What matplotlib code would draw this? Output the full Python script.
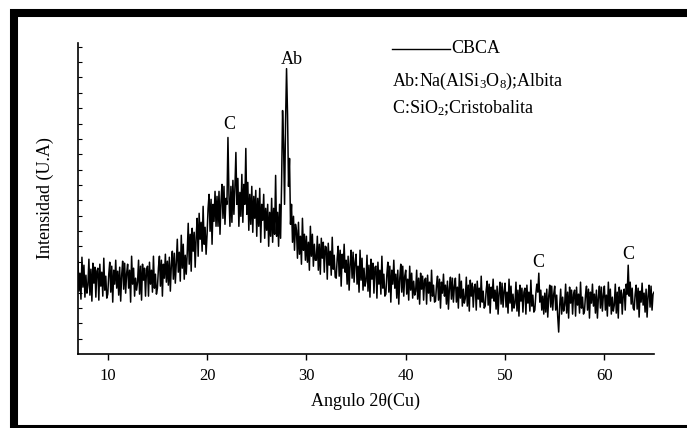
import numpy as np
import matplotlib
matplotlib.use("Agg")
import matplotlib.pyplot as plt
from matplotlib.patches import Rectangle

plt.rcParams['font.family'] = ['Liberation Serif', 'DejaVu Serif']
plt.rcParams['mathtext.fontset'] = 'custom'
plt.rcParams['mathtext.rm'] = 'Liberation Serif'
plt.rcParams['mathtext.it'] = 'Liberation Serif'

# 2theta grid, 0.1 deg step from 7 to 65
two_theta = np.round(np.arange(7.0, 65.01, 0.1), 1)

# intensity (arbitrary units), one row per degree
intensity = [
    93, 63, 81, 55, 97, 67, 89, 57, 79, 61,          # 7
    69, 95, 59, 85, 53, 91, 71, 87, 57, 83,          # 8
    86, 54, 90, 68, 82, 58, 96, 64, 78, 56,          # 9
    60, 80, 92, 62, 88, 52, 84, 70, 94, 66,          # 10
    83, 59, 87, 53, 79, 93, 65, 91, 61, 81,          # 11
    90, 66, 84, 52, 98, 70, 86, 58, 76, 64,          # 12
    72, 94, 60, 88, 54, 90, 74, 86, 58, 84,          # 13
    88, 58, 92, 70, 84, 62, 98, 66, 80, 60,          # 14
    66, 86, 98, 68, 94, 58, 90, 76, 100, 72,         # 15
    93, 69, 97, 63, 89, 103, 75, 101, 71, 91,        # 16
    115, 82, 102, 73, 119, 86, 110, 75, 99, 80,      # 17
    101, 131, 90, 120, 83, 126, 103, 122, 87, 117,   # 18
    136, 98, 141, 115, 132, 103, 148, 110, 127, 100, # 19
    120, 146, 160, 123, 155, 110, 150, 133, 163, 128,  # 20
    158, 128, 163, 120, 153, 170, 136, 168, 130, 156,  # 21
    150, 217, 160, 128, 168, 132, 174, 140, 166, 202,  # 22
    150, 176, 128, 162, 138, 180, 132, 170, 150, 206,  # 23
    140, 172, 124, 160, 130, 168, 122, 158, 136, 164,  # 24
    118, 156, 128, 166, 112, 150, 134, 160, 116, 146,  # 25
    124, 150, 108, 142, 118, 156, 112, 146, 120, 179,  # 26
    118, 142, 108, 150, 116, 170, 244, 210, 150, 232,  # 27
    286, 240, 168, 196, 130, 150, 112, 138, 104, 130,  # 28
    124, 96, 132, 100, 118, 90, 136, 104, 120, 94,     # 29
    118, 92, 112, 84, 128, 98, 120, 88, 110, 94,       # 30
    94, 118, 84, 110, 80, 116, 96, 112, 82, 108,       # 31
    107, 75, 111, 89, 103, 79, 117, 85, 99, 77,        # 32
    76, 96, 108, 78, 104, 68, 100, 86, 110, 82,        # 33
    94, 70, 98, 64, 90, 104, 76, 102, 72, 92,          # 34
    100, 70, 88, 62, 104, 74, 96, 64, 86, 68,          # 35
    73, 99, 63, 89, 57, 95, 75, 91, 61, 87,            # 36
    88, 56, 92, 70, 84, 60, 98, 66, 80, 58,            # 37
    60, 80, 92, 62, 88, 52, 84, 70, 94, 66,            # 38
    80, 56, 84, 50, 76, 90, 62, 88, 58, 78,            # 39
    84, 60, 75, 54, 88, 64, 81, 56, 73, 59,            # 40
    63, 84, 55, 76, 50, 81, 65, 78, 54, 74,            # 41
    76, 50, 79, 61, 72, 53, 84, 58, 69, 52,            # 42
    53, 69, 78, 54, 75, 46, 72, 61, 80, 58,            # 43
    69, 50, 73, 45, 66, 77, 55, 76, 52, 68,            # 44
    76, 52, 67, 46, 80, 56, 73, 48, 65, 51,            # 45
    56, 77, 48, 69, 43, 74, 58, 71, 47, 67,            # 46
    70, 44, 73, 55, 66, 47, 78, 52, 63, 46,            # 47
    48, 64, 73, 49, 70, 41, 67, 56, 75, 53,            # 48
    64, 45, 68, 40, 61, 72, 50, 71, 47, 63,            # 49
    71, 47, 62, 41, 75, 51, 68, 43, 60, 46,            # 50
    51, 72, 43, 64, 38, 69, 53, 66, 42, 62,            # 51
    66, 40, 69, 51, 62, 43, 74, 48, 59, 42,            # 52
    44, 60, 70, 62, 81, 52, 64, 44, 58, 40,            # 53
    61, 42, 65, 37, 58, 69, 47, 68, 44, 60,            # 54
    68, 44, 59, 38, 22, 48, 65, 40, 57, 43,            # 55
    49, 70, 41, 62, 36, 67, 51, 64, 40, 60,            # 56
    64, 38, 67, 49, 60, 41, 72, 46, 57, 40,            # 57
    43, 59, 68, 44, 65, 36, 62, 51, 70, 48,            # 58
    60, 41, 64, 36, 57, 68, 46, 67, 43, 59,            # 59
    68, 44, 59, 38, 72, 48, 65, 40, 57, 43,            # 60
    49, 70, 41, 62, 36, 67, 51, 64, 40, 60,            # 61
    65, 44, 70, 60, 89, 58, 72, 50, 66, 46,            # 62
    44, 60, 69, 45, 66, 37, 63, 52, 71, 49,            # 63
    61, 42, 65, 37, 58, 69, 47, 68, 44, 60,            # 64
    62,                                                # 65
]

# peak labels: text, position, label bottom height
peak_text = ['C', 'Ab', 'C', 'C']
peak_x = [22.2, 28.5, 53.35, 62.4]
peak_y = [222, 287, 83, 91]

fig = plt.figure(figsize=(6.87, 4.28), dpi=100)
ax = fig.add_axes([0.1135, 0.1729, 0.8385, 0.7273])

ax.plot(two_theta, intensity, color='black', lw=1.1, label='CBCA')

for t, px, py in zip(peak_text, peak_x, peak_y):
    ax.text(px, py, t, ha='center', va='bottom', fontsize=13)

ax.set_xlim(7, 65)
ax.set_ylim(0, 312)
ax.set_xticks([10, 20, 30, 40, 50, 60])
ax.set_yticks(np.arange(15.4, 312, 15.4))
ax.set_yticklabels([])
ax.tick_params(axis='x', direction='out', length=4, width=1, labelsize=12, pad=6)
ax.tick_params(axis='y', direction='in', length=3, width=0.8)
ax.spines['top'].set_visible(False)
ax.spines['right'].set_visible(False)
ax.spines['left'].set_linewidth(1.2)
ax.spines['bottom'].set_linewidth(1.2)

ax.set_xlabel('Angulo 2θ(Cu)', fontsize=13, labelpad=6)
ax.set_ylabel('Intensidad (U.A)', fontsize=13, labelpad=14)

# legend block written as plain text, like the original
ax.plot([0.545, 0.645], [0.98, 0.98], color='black', lw=1, transform=ax.transAxes)
ax.text(0.648, 0.98, 'CBCA', transform=ax.transAxes, fontsize=13, va='center')
ax.text(0.545, 0.875, r'Ab:Na(AlSi$_3$O$_8$);Albita', transform=ax.transAxes,
        fontsize=13, va='center')
ax.text(0.545, 0.79, r'C:SiO$_2$;Cristobalita', transform=ax.transAxes,
        fontsize=13, va='center')

# thick black frame around the figure
fig.patches.append(Rectangle((0.0204, -0.0023), 1.0, 0.9719, transform=fig.transFigure,
                             fill=False, lw=5.8, edgecolor='black', joinstyle='miter'))

fig.savefig('out.png', dpi=100)
